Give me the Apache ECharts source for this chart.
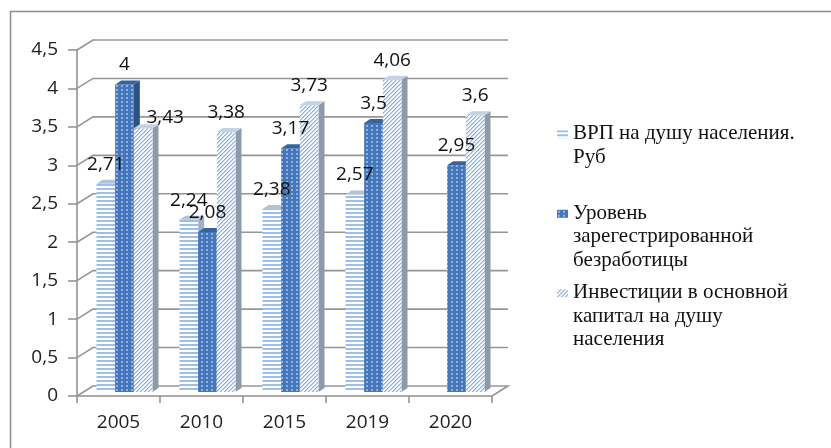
<!DOCTYPE html>
<html lang="ru">
<head>
<meta charset="utf-8" />
<title>ВРП, безработица, инвестиции</title>
<script src="https://cdn.jsdelivr.net/npm/echarts@6/dist/echarts.min.js"></script>
<style>
  html, body { margin: 0; padding: 0; background: #fff; }
  #chart { width: 831px; height: 448px; }
</style>
</head>
<body>
<div id="chart"></div>
<script type="text/javascript">
// данные
const years = ['2005', '2010', '2015', '2019', '2020'];
const seriesNames = [
    'ВРП на душу населения. Руб',
    'Уровень зарегестрированной безработицы',
    'Инвестиции в основной капитал на душу населения'
];
const legendLabels = [
    'ВРП на душу населения.\nРуб\n ',
    'Уровень\nзарегестрированной\nбезработицы',
    'Инвестиции в основной\nкапитал на душу\nнаселения'
];
const vrp = [2.71, 2.24, 2.38, 2.57, null];
const unemployment = [4, 2.08, 3.17, 3.5, 2.95];
const investment = [3.43, 3.38, 3.73, 4.06, 3.6];
const yTicks = [0, 0.5, 1, 1.5, 2, 2.5, 3, 3.5, 4, 4.5];

// штриховки
function makePattern(w, h, draw) {
    const c = document.createElement('canvas');
    c.width = w;
    c.height = h;
    draw(c.getContext('2d'));
    return { image: c, repeat: 'repeat' };
}
const hStripes = makePattern(4, 4, function (ctx) {
    ctx.fillStyle = '#ffffff';
    ctx.fillRect(0, 0, 4, 4);
    ctx.fillStyle = '#a0bfe7';
    ctx.fillRect(0, 0, 4, 2);
});
const dots = makePattern(5, 4, function (ctx) {
    ctx.fillStyle = '#4476b9';
    ctx.fillRect(0, 0, 5, 4);
    ctx.fillStyle = '#8fb2e0';
    ctx.fillRect(1, 1, 2, 2);
});
const diag = makePattern(4, 4, function (ctx) {
    ctx.fillStyle = '#f4f8fd';
    ctx.fillRect(0, 0, 4, 4);
    for (let i = 0; i < 4; i++) {
        ctx.fillStyle = '#8eb0de';
        ctx.fillRect(i, 3 - i, 1, 1);
        ctx.fillStyle = '#c4d7f0';
        ctx.fillRect((i + 1) % 4, 3 - i, 1, 1);
    }
});

const BAR = 0.225;          // доля ширины категории на столбик
const SHIFT = [6, -4];      // столбики стоят посередине глубины
const DEPTH = [6, -4];      // глубина самого столбика
const WALL = [16, -10];     // глубина стенок
const labelNudge = { '2:0': [22, 9] };
const numFont = '19px "Open Sans"';

function fmt(v) {
    return String(v).replace('.', ',');
}

function barRenderer(idx, front, top, side) {
    return function (params, api) {
        const v = api.value(1);
        if (v == null || isNaN(v)) return;
        const cat = api.value(0);
        const w = api.size([1, 0])[0] * BAR;
        const c = api.coord([cat, v]);
        const b = api.coord([cat, 0]);
        const x = c[0] - 1.5 * w + idx * w + SHIFT[0];
        const yT = c[1] + SHIFT[1];
        const yB = b[1] + SHIFT[1];
        const nudge = labelNudge[idx + ':' + params.dataIndex] || [0, 0];
        return {
            type: 'group',
            children: [
                {
                    type: 'polygon',
                    shape: { points: [[x + w, yT], [x + w + DEPTH[0], yT + DEPTH[1]],
                        [x + w + DEPTH[0], yB + DEPTH[1]], [x + w, yB]] },
                    style: { fill: side }
                },
                {
                    type: 'rect',
                    shape: { x: x, y: yT, width: w, height: yB - yT },
                    style: { fill: front }
                },
                {
                    type: 'polygon',
                    shape: { points: [[x, yT], [x + DEPTH[0], yT + DEPTH[1]],
                        [x + w + DEPTH[0], yT + DEPTH[1]], [x + w, yT]] },
                    style: { fill: top }
                },
                {
                    type: 'text',
                    z2: 100,
                    style: {
                        text: fmt(v),
                        x: x + w / 2 + nudge[0],
                        y: yT - 10 + nudge[1],
                        align: 'center',
                        verticalAlign: 'bottom',
                        font: numFont,
                        fill: '#111'
                    }
                }
            ]
        };
    };
}

// стенки и сетка в "3D"
function gridRenderer(params, api) {
    const cs = params.coordSys;
    const val = api.value(1);
    const y = api.coord([0, val])[1];
    const x0 = cs.x;
    const x1 = cs.x + cs.width;
    const pts = [[x0, y], [x0 + WALL[0], y + WALL[1]], [x1 + WALL[0], y + WALL[1]]];
    if (val === 0) pts.push([x1, y]);
    return {
        type: 'polyline',
        shape: { points: pts },
        style: { stroke: '#969696', lineWidth: 1.6, fill: null }
    };
}

const myChart = echarts.init(document.getElementById('chart'));

const option = {
    animation: false,
    grid: {
        left: 77,
        top: 50,
        width: 415,
        height: 346,
        outerBoundsMode: 'none'
    },
    graphic: [{
        type: 'rect',
        left: 8,
        top: 9,
        shape: { width: 900, height: 500 },
        style: { stroke: '#8c8c8c', lineWidth: 1.5, fill: 'none' },
        silent: true
    }],
    legend: {
        orient: 'vertical',
        left: 552,
        top: 117,
        itemWidth: 11,
        itemHeight: 70,
        itemGap: 9,
        selectedMode: false,
        icon: 'path://M0,8h11v8h-11z M0,0h0.01v0.01h-0.01z M0,70h0.01v0.01h-0.01z',
        data: seriesNames,
        formatter: function (name) {
            return legendLabels[seriesNames.indexOf(name)];
        },
        textStyle: {
            fontFamily: '"Liberation Serif"',
            fontSize: 21,
            lineHeight: 23.5,
            color: '#111'
        }
    },
    xAxis: {
        type: 'category',
        data: years,
        axisLine: { show: true, lineStyle: { color: '#8e8e8e', width: 1.5 } },
        axisTick: { show: true, length: 7, lineStyle: { color: '#8e8e8e', width: 1.5 } },
        axisLabel: { margin: 17, fontFamily: '"Open Sans"', fontSize: 19, color: '#222' },
        splitLine: { show: false }
    },
    yAxis: {
        type: 'value',
        min: 0,
        max: 4.5,
        interval: 0.5,
        axisLine: { show: true, lineStyle: { color: '#8e8e8e', width: 1.5 } },
        axisTick: { show: true, length: 9, lineStyle: { color: '#8e8e8e', width: 1.5 } },
        axisLabel: {
            margin: 19,
            fontFamily: '"Open Sans"',
            fontSize: 19,
            color: '#222',
            formatter: fmt
        },
        splitLine: { show: false }
    },
    series: [
        {
            type: 'custom',
            name: 'grid3d',
            silent: true,
            clip: false,
            renderItem: gridRenderer,
            data: yTicks.map(function (v) { return [0, v]; })
        },
        {
            type: 'custom',
            name: seriesNames[0],
            clip: false,
            itemStyle: { color: hStripes, borderWidth: 0 },
            renderItem: barRenderer(0, hStripes, '#b3c3d8', '#9eaec4'),
            data: vrp.map(function (v, i) { return [i, v]; })
        },
        {
            type: 'custom',
            name: seriesNames[1],
            clip: false,
            itemStyle: { color: dots, borderWidth: 0 },
            renderItem: barRenderer(1, dots, '#36639f', '#2c5283'),
            data: unemployment.map(function (v, i) { return [i, v]; })
        },
        {
            type: 'custom',
            name: seriesNames[2],
            clip: false,
            itemStyle: { color: diag, borderWidth: 0 },
            renderItem: barRenderer(2, diag, '#c3d2e6', '#8f9aa8'),
            data: investment.map(function (v, i) { return [i, v]; })
        }
    ]
};
myChart.setOption(option);
</script>
</body>
</html>
